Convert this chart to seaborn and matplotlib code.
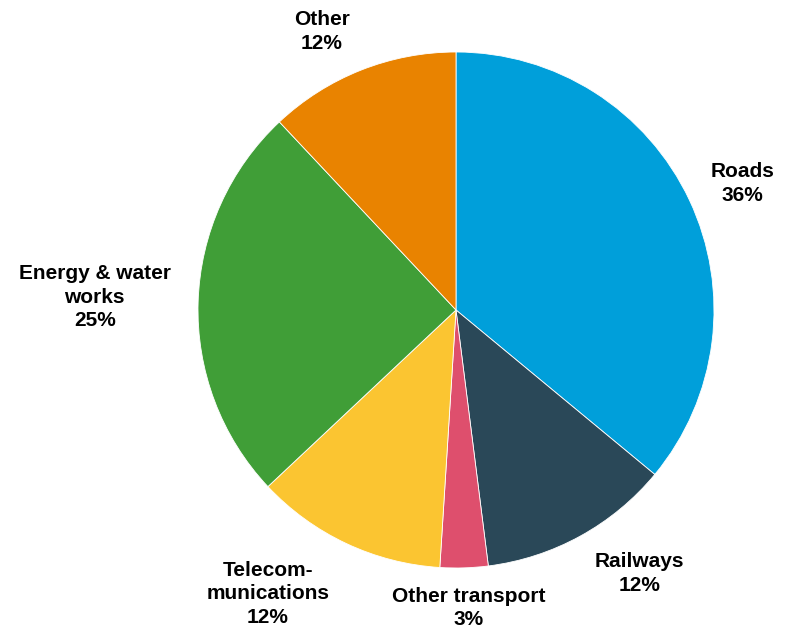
import matplotlib
matplotlib.use("Agg")
import matplotlib.pyplot as plt
import seaborn as sns

sns.set_theme(style="white")
plt.rcParams['font.family'] = ['Liberation Sans', 'DejaVu Sans']

categories = ["Roads", "Railways", "Other transport", "Telecom-\nmunications", "Energy & water\nworks", "Other"]
values = [36, 12, 3, 12, 25, 12]
colors = ["#009FDA", "#2A4858", "#DE4F6D", "#FBC531", "#409E37", "#E98300"]

# label anchor positions (in units of pie radius)
label_pos = [(1.11, 0.49), (0.71, -1.02), (0.05, -1.155), (-0.73, -1.10), (-1.40, 0.05), (-0.52, 1.08)]

fig = plt.figure(figsize=(7.89, 6.29), dpi=100)
cx, cy, r = 456, 310, 258
ax = fig.add_axes([(cx - r) / 789, (629 - cy - r) / 629, 2 * r / 789, 2 * r / 629])
ax.pie(values, colors=colors, startangle=90, counterclock=False,
       wedgeprops=dict(edgecolor="white", linewidth=0.6))
ax.set_xlim(-1, 1)
ax.set_ylim(-1, 1)
ax.set_aspect("equal")
for cat, v, (x, y) in zip(categories, values, label_pos):
    ax.text(x, y, f"{cat}\n{v}%", ha="center", va="center", fontsize=15,
            fontweight="bold", color="#000000", linespacing=1.32, clip_on=False)
ax.axis("off")
fig.savefig("out.png", dpi=100)
